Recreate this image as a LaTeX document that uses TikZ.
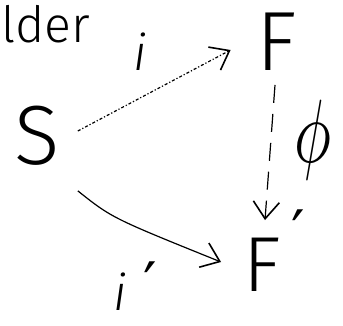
\documentclass[tikz,border=0pt]{standalone}
\usepackage{graphicx}
\usepackage{fontspec}
\newfontfamily\hand{Fira Sans Light}
\newfontfamily\symf{DejaVu Sans}
\usetikzlibrary{arrows.meta}
\begin{document}
\begin{tikzpicture}[x=1pt,y=-1pt,
  lbl/.style={inner sep=0pt, font=\hand\fontsize{84}{84}\selectfont},
  sml/.style={inner sep=0pt, font=\hand\fontsize{50}{50}\selectfont},
  prm/.style={inner sep=0pt, font=\symf\fontsize{60}{60}\selectfont},
  barb/.style={-{Straight Barb[length=17pt,width=26pt,line width=1.6pt]}},
  link/.style={line width=1.2pt, barb}]
\useasboundingbox (0,0) rectangle (343,326);
\node[sml, anchor=west] (word) at (1,24) {lder};
\node[lbl] (S) at (37,136) {S};
\node[lbl] (F) at (277,42) {F};
\node[lbl, font=\hand\fontsize{78}{78}\selectfont] (Fp) at (262,265) {F};
\node[prm] (Fpr) at (298,232) {′};
\node[sml] (i) at (140,52) {\itshape i};
\node[sml] (ip) at (120,292) {\itshape i};
\node[prm] (ipr) at (150,284) {′};
\node[inner sep=0pt] (phi) at (313,140) {\scalebox{6.2}[9]{$\phi$}};
\draw[link, dash dot] ([xshift=18pt,yshift=5pt]S.east) -- ([xshift=-26pt,yshift=-8pt]F.west);
\draw[link, dashed, dash pattern=on 18pt off 11pt] ([xshift=-2pt,yshift=-14pt]F.south) -- ([xshift=3pt,yshift=18pt]Fp.north);
\draw[link] ([xshift=18pt,yshift=-25pt]S.south east) .. controls (112,218) .. ([xshift=-22pt,yshift=3pt]Fp.west);
\end{tikzpicture}
\end{document}
